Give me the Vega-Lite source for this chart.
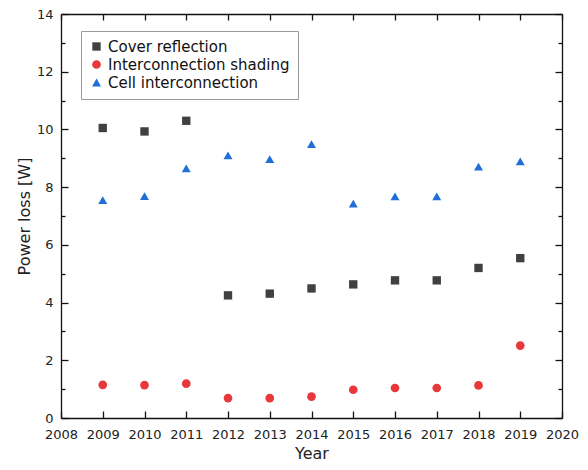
{
  "$schema": "https://vega.github.io/schema/vega-lite/v6.json",
  "width": 501,
  "height": 404,
  "autosize": {"type": "none"},
  "padding": {"left": 61, "top": 14, "right": 26, "bottom": 52},
  "background": "white",
  "data": {
    "values": [
      {"series": "Cover reflection", "year": 2009, "value": 10.05},
      {"series": "Cover reflection", "year": 2010, "value": 9.93},
      {"series": "Cover reflection", "year": 2011, "value": 10.30},
      {"series": "Cover reflection", "year": 2012, "value": 4.25},
      {"series": "Cover reflection", "year": 2013, "value": 4.31},
      {"series": "Cover reflection", "year": 2014, "value": 4.49},
      {"series": "Cover reflection", "year": 2015, "value": 4.63},
      {"series": "Cover reflection", "year": 2016, "value": 4.77},
      {"series": "Cover reflection", "year": 2017, "value": 4.77},
      {"series": "Cover reflection", "year": 2018, "value": 5.20},
      {"series": "Cover reflection", "year": 2019, "value": 5.54},
      {"series": "Interconnection shading", "year": 2009, "value": 1.15},
      {"series": "Interconnection shading", "year": 2010, "value": 1.14},
      {"series": "Interconnection shading", "year": 2011, "value": 1.19},
      {"series": "Interconnection shading", "year": 2012, "value": 0.69},
      {"series": "Interconnection shading", "year": 2013, "value": 0.69},
      {"series": "Interconnection shading", "year": 2014, "value": 0.74},
      {"series": "Interconnection shading", "year": 2015, "value": 0.98},
      {"series": "Interconnection shading", "year": 2016, "value": 1.04},
      {"series": "Interconnection shading", "year": 2017, "value": 1.04},
      {"series": "Interconnection shading", "year": 2018, "value": 1.13},
      {"series": "Interconnection shading", "year": 2019, "value": 2.51},
      {"series": "Cell interconnection", "year": 2009, "value": 7.55},
      {"series": "Cell interconnection", "year": 2010, "value": 7.69},
      {"series": "Cell interconnection", "year": 2011, "value": 8.65},
      {"series": "Cell interconnection", "year": 2012, "value": 9.10},
      {"series": "Cell interconnection", "year": 2013, "value": 8.97},
      {"series": "Cell interconnection", "year": 2014, "value": 9.49},
      {"series": "Cell interconnection", "year": 2015, "value": 7.43},
      {"series": "Cell interconnection", "year": 2016, "value": 7.68},
      {"series": "Cell interconnection", "year": 2017, "value": 7.68},
      {"series": "Cell interconnection", "year": 2018, "value": 8.71},
      {"series": "Cell interconnection", "year": 2019, "value": 8.89}
    ]
  },
  "config": {
    "font": "DejaVu Sans",
    "view": {"stroke": null},
    "axis": {
      "grid": false,
      "domainColor": "#111111",
      "domainWidth": 1.3,
      "tickColor": "#111111",
      "tickWidth": 1.3,
      "labelColor": "#222222",
      "labelFontSize": 13,
      "titleColor": "#222222",
      "titleFontSize": 16,
      "titleFontWeight": "normal"
    },
    "legend": {"labelLimit": 0}
  },
  "layer": [
    {
      "mark": {"type": "point", "filled": true, "opacity": 1, "strokeWidth": 0},
      "encoding": {
        "x": {
          "field": "year", "type": "quantitative",
          "scale": {"domain": [2008, 2020], "nice": false, "zero": false},
          "axis": {
            "orient": "bottom", "title": "Year", "tickCount": 12,
            "format": "d", "tickSize": -7, "labelPadding": 17,
            "labelFlush": false, "labelOverlap": false
          }
        },
        "y": {
          "field": "value", "type": "quantitative",
          "scale": {"domain": [0, 14], "nice": false},
          "axis": {
            "orient": "left", "title": "Power loss [W]",
            "values": [0, 2, 4, 6, 8, 10, 12, 14],
            "tickSize": -7, "labelPadding": 15
          }
        },
        "color": {
          "field": "series", "type": "nominal",
          "scale": {
            "domain": ["Cover reflection", "Interconnection shading", "Cell interconnection"],
            "range": ["#404040", "#e8383c", "#1f6fd6"]
          },
          "legend": {
            "title": null, "orient": "none", "legendX": 20, "legendY": 17,
            "padding": 8, "labelFontSize": 15, "labelColor": "#111111",
            "strokeColor": "#9a9a9a", "fillColor": "white", "symbolStrokeWidth": 0
          }
        },
        "shape": {
          "field": "series", "type": "nominal",
          "scale": {
            "domain": ["Cover reflection", "Interconnection shading", "Cell interconnection"],
            "range": ["square", "circle", "triangle-up"]
          }
        },
        "size": {
          "field": "series", "type": "nominal",
          "scale": {
            "domain": ["Cover reflection", "Interconnection shading", "Cell interconnection"],
            "range": [70, 81, 100]
          }
        }
      }
    },
    {
      "mark": {"type": "point", "opacity": 0},
      "encoding": {
        "x": {
          "field": "year", "type": "quantitative",
          "axis": {"orient": "top", "title": null, "labels": false, "tickCount": 12, "tickSize": -6}
        },
        "y": {
          "field": "value", "type": "quantitative",
          "axis": {
            "orient": "right", "title": null, "labels": false,
            "values": [0, 2, 4, 6, 8, 10, 12, 14],
            "tickSize": -7
          }
        }
      }
    },
    {
      "mark": {"type": "point", "opacity": 0},
      "encoding": {
        "x": {"field": "year", "type": "quantitative", "axis": null},
        "y": {
          "field": "value", "type": "quantitative",
          "axis": {
            "orient": "left", "title": null, "labels": false, "domain": false,
            "values": [1, 3, 5, 7, 9, 11, 13],
            "tickSize": -4
          }
        }
      }
    },
    {
      "mark": {"type": "point", "opacity": 0},
      "encoding": {
        "x": {"field": "year", "type": "quantitative", "axis": null},
        "y": {
          "field": "value", "type": "quantitative",
          "axis": {
            "orient": "right", "title": null, "labels": false, "domain": false,
            "values": [1, 3, 5, 7, 9, 11, 13],
            "tickSize": -4
          }
        }
      }
    }
  ],
  "resolve": {"axis": {"x": "independent", "y": "independent"}}
}
